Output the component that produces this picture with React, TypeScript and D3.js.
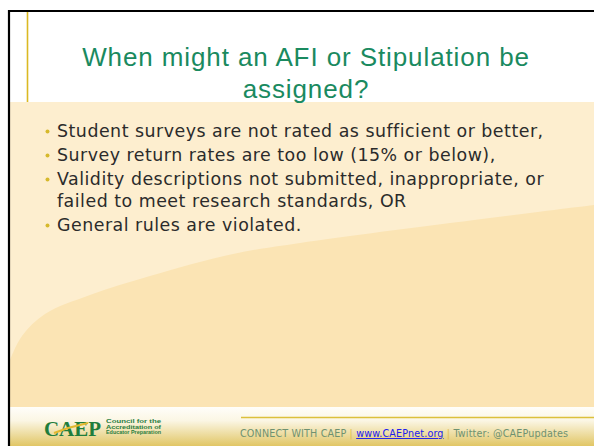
import React, { useEffect, useRef } from 'react'
import * as d3 from 'd3'

// slide content
const titleLines = ['When might an AFI or Stipulation be', 'assigned?']
const bullets = [
  ['Student surveys are not rated as sufficient or better,'],
  ['Survey return rates are too low (15% or below),'],
  ['Validity descriptions not submitted, inappropriate, or', 'failed to meet research standards, OR'],
  ['General rules are violated.'],
]
const footerParts = ['CONNECT WITH CAEP', 'www.CAEPnet.org', 'Twitter: @CAEPupdates']
const logoLines = ['Council for the', 'Accreditation of', 'Educator Preparation']
// outline of the darker swoosh in the content area
const swoosh: [number, number][] = [
  [10, 360], [22, 336], [45, 314], [90, 295], [150, 276], [233, 254], [300, 243], [450, 223], [594, 205],
]

const W = 594
const H = 446

export default function App() {
  const ref = useRef<SVGSVGElement>(null)

  useEffect(() => {
    const svg = d3.select(ref.current)
    svg.selectAll('*').remove()

    const defs = svg.append('defs')
    const grad = defs.append('linearGradient').attr('id', 'foot').attr('x1', 0).attr('y1', 0).attr('x2', 0).attr('y2', 1)
    grad.append('stop').attr('offset', '0%').attr('stop-color', '#fffefa')
    grad.append('stop').attr('offset', '35%').attr('stop-color', '#fbf6e4')
    grad.append('stop').attr('offset', '100%').attr('stop-color', '#e1c665')

    // page + slide
    svg.append('rect').attr('width', W).attr('height', H).attr('fill', '#ffffff')

    // content area
    svg.append('rect').attr('x', 10).attr('y', 102).attr('width', W).attr('height', 305).attr('fill', '#fdeecf')
    const area = d3.area<[number, number]>()
      .x(d => d[0]).y0(407).y1(d => d[1])
      .curve(d3.curveCatmullRom)
    svg.append('path').datum(swoosh).attr('d', area).attr('fill', '#fbe4b4')

    // footer
    svg.append('rect').attr('x', 10).attr('y', 407).attr('width', W).attr('height', H - 407).attr('fill', 'url(#foot)')
    svg.append('line').attr('x1', 241).attr('x2', W).attr('y1', 417.5).attr('y2', 417.5)
      .attr('stroke', '#dcc03c').attr('stroke-width', 1.5)

    // borders
    svg.append('line').attr('x1', 9).attr('x2', 9).attr('y1', 10).attr('y2', H).attr('stroke', '#000').attr('stroke-width', 2.2)
    svg.append('line').attr('x1', 8).attr('x2', W).attr('y1', 11).attr('y2', 11).attr('stroke', '#000').attr('stroke-width', 2.2)
    svg.append('line').attr('x1', 27.5).attr('x2', 27.5).attr('y1', 12).attr('y2', 102).attr('stroke', '#dbb922').attr('stroke-width', 1.6)

    // title
    const title = svg.append('text')
      .attr('font-family', '"Liberation Sans", Arial, sans-serif')
      .attr('font-size', 26).attr('letter-spacing', 0.9).attr('fill', '#1a8a5f').attr('text-anchor', 'middle')
    title.selectAll('tspan').data(titleLines).join('tspan')
      .attr('x', 306).attr('y', (d, i) => 66 + i * 32).text(d => d)

    // bullets
    const body = svg.append('g')
      .attr('font-family', '"DejaVu Sans", sans-serif').attr('font-size', 17.4)
      .attr('letter-spacing', 0.5).attr('fill', '#2b2b2b')
    let y = 137
    bullets.forEach(lines => {
      body.append('circle').attr('cx', 47.5).attr('cy', y - 5.5).attr('r', 2).attr('fill', '#d6b92c')
      lines.forEach((line, j) => {
        body.append('text').attr('x', 57).attr('y', y).text(line)
        y += j < lines.length - 1 ? 22 : 24
      })
    })

    // logo
    const logo = svg.append('g')
    logo.append('text').attr('x', 44).attr('y', 436)
      .attr('font-family', '"Liberation Serif", serif').attr('font-weight', 'bold')
      .attr('font-size', 20).attr('fill', '#1f7d3c').attr('textLength', 57).attr('lengthAdjust', 'spacingAndGlyphs')
      .text('CAEP')
    logo.append('path').attr('d', d3.line()([[54, 433], [68, 428], [88, 423]]))
      .attr('stroke', '#e2b82e').attr('stroke-width', 2).attr('fill', 'none')
    logo.selectAll('text.small').data(logoLines).join('text').attr('class', 'small')
      .attr('x', 106).attr('y', (d, i) => 423 + i * 5.5)
      .attr('font-family', '"Liberation Sans", sans-serif').attr('font-weight', 'bold')
      .attr('font-size', 5).attr('fill', '#2a7d3e').attr('textLength', 55).attr('lengthAdjust', 'spacingAndGlyphs')
      .text(d => d)

    // footer text
    const foot = svg.append('text').attr('x', 240).attr('y', 437)
      .attr('font-family', '"DejaVu Sans", sans-serif').attr('font-size', 9.6)
      .attr('letter-spacing', 0.15).attr('fill', '#6f9271')
    foot.append('tspan').text(footerParts[0] + ' ')
    foot.append('tspan').attr('fill', '#e0be4a').text('| ')
    foot.append('tspan').attr('fill', '#2020ee').attr('text-decoration', 'underline').text(footerParts[1])
    foot.append('tspan').attr('fill', '#e0be4a').text(' | ')
    foot.append('tspan').text(footerParts[2])
  }, [])

  return (
    <svg ref={ref} width={W} height={H}
      style={{ position: 'absolute', left: 0, top: 0, display: 'block' }} />
  )
}
